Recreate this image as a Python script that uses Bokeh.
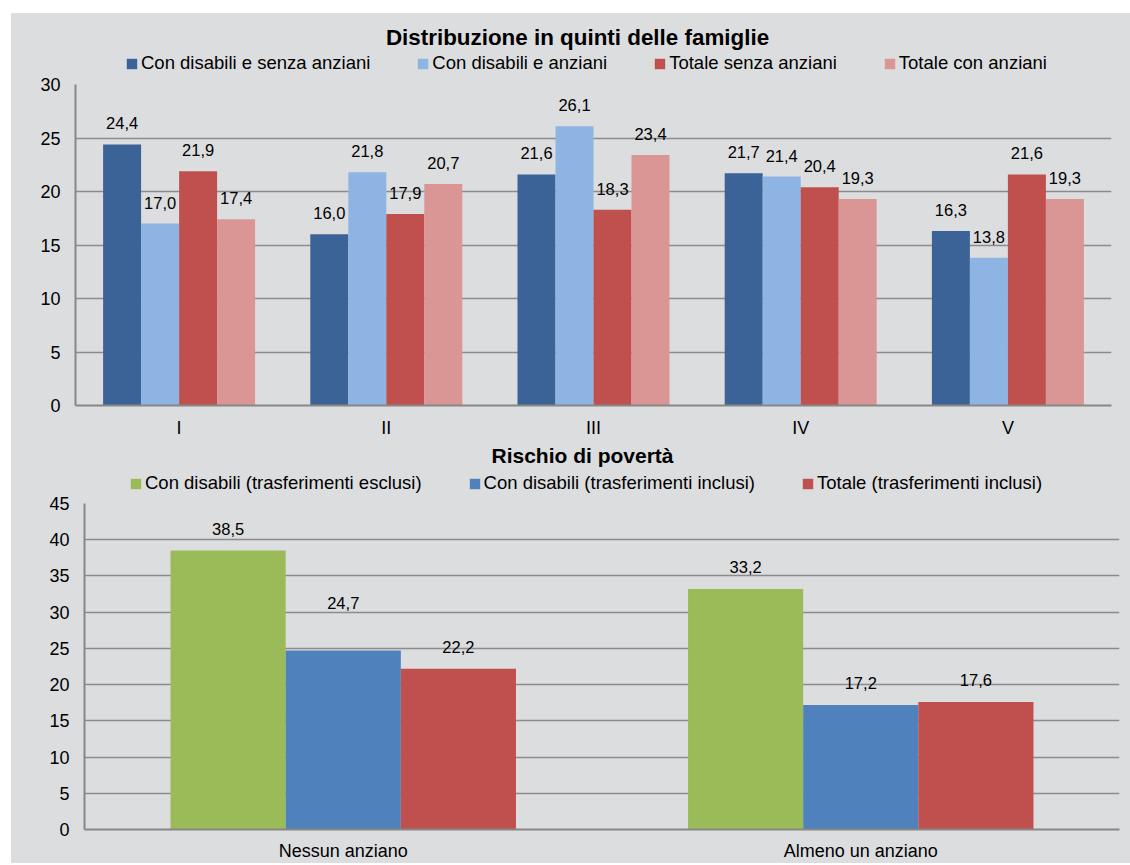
from bokeh.plotting import figure
from bokeh.models import (ColumnDataSource, FactorRange, Legend, LegendItem, Range1d,
                          FixedTicker, Label)
from bokeh.transform import dodge
from bokeh.layouts import column
from bokeh.embed import file_html
from bokeh.resources import INLINE
from bokeh.core.properties import value

# ---------------- data ----------------
quintiles = ["I", "II", "III", "IV", "V"]
top_series = ["Con disabili e senza anziani", "Con disabili e anziani",
              "Totale senza anziani", "Totale con anziani"]
dis_senza_anz = [24.4, 16.0, 21.6, 21.7, 16.3]
dis_con_anz = [17.0, 21.8, 26.1, 21.4, 13.8]
tot_senza_anz = [21.9, 17.9, 18.3, 20.4, 21.6]
tot_con_anz = [17.4, 20.7, 23.4, 19.3, 19.3]
top_ticks = [0, 5, 10, 15, 20, 25, 30]

groups = ["Nessun anziano", "Almeno un anziano"]
bot_series = ["Con disabili (trasferimenti esclusi)", "Con disabili (trasferimenti inclusi)",
              "Totale (trasferimenti inclusi)"]
dis_escl = [38.5, 33.2]
dis_incl = [24.7, 17.2]
tot_incl = [22.2, 17.6]
bot_ticks = [0, 5, 10, 15, 20, 25, 30, 35, 40, 45]

# ---------------- style ----------------
BG = "#DCDDDF"
GRID = "#8C8C8C"
AXIS = "#878787"
FONT = "Liberation Sans"
W = 1119
top_colors = ["#3B6397", "#8EB4E3", "#C0504D", "#D99694"]
bot_colors = ["#9BBB59", "#4F81BD", "#C0504D"]
bot_label_extra = [[0, 0], [-26, 0], [0, 0]]  # manual label placement in original


def fmt(v):
    return f"{v:.1f}".replace(".", ",")


def base_style(p):
    p.background_fill_color = BG
    p.border_fill_color = BG
    p.outline_line_color = None
    p.frame_align = False


def style(p, ticks, xstand):
    base_style(p)
    p.xgrid.grid_line_color = None
    p.ygrid.grid_line_color = GRID
    p.ygrid.grid_line_width = 1.3
    p.yaxis.ticker = FixedTicker(ticks=ticks)
    for ax in (p.xaxis, p.yaxis):
        ax.axis_line_color = AXIS
        ax.axis_line_width = 2
        ax.major_tick_line_color = None
        ax.minor_tick_line_color = None
        ax.major_tick_out = 0
        ax.major_tick_in = 0
        ax.major_label_text_font = FONT
        ax.major_label_text_font_size = "18px"
        ax.major_label_text_color = "black"
    p.yaxis.major_label_standoff = 15
    p.xaxis.major_label_standoff = xstand


def header(title, names, colors, height, title_xy, title_size, legend_xy):
    h = figure(width=W, height=height, x_range=Range1d(0, W), y_range=Range1d(0, height),
               x_axis_type=None, y_axis_type=None, output_backend="svg", toolbar_location=None,
               min_border=0)
    base_style(h)
    h.grid.visible = False
    h.add_layout(Label(x=title_xy[0], y=title_xy[1], text=title, text_align="center",
                       text_baseline="middle", text_font=FONT, text_font_size=title_size,
                       text_font_style="bold", text_color="black"))
    items = []
    for name, c in zip(names, colors):
        r = h.vbar(x=[0], top=[0], width=0, fill_color=c, line_color=None)
        items.append(LegendItem(label=name, renderers=[r]))
    lg = Legend(items=items, orientation="horizontal", location=legend_xy)
    lg.background_fill_alpha = 0
    lg.border_line_color = None
    lg.glyph_width = 13
    lg.glyph_height = 13
    lg.label_standoff = 3
    lg.spacing = 46
    lg.padding = 0
    lg.margin = 0
    lg.label_text_font = FONT
    lg.label_text_font_size = "18.5px"
    lg.label_text_color = "black"
    h.add_layout(lg, "center")
    return h


# ---------------- top chart ----------------
h1 = header("Distribuzione in quinti delle famiglie", top_series, top_colors,
            62, (566, 38), "22.4px", (114, 1))

src1 = ColumnDataSource(dict(cat=quintiles, s0=dis_senza_anz, s1=dis_con_anz,
                             s2=tot_senza_anz, s3=tot_con_anz,
                             l0=[fmt(v) for v in dis_senza_anz], l1=[fmt(v) for v in dis_con_anz],
                             l2=[fmt(v) for v in tot_senza_anz], l3=[fmt(v) for v in tot_con_anz]))

p1 = figure(x_range=FactorRange(*quintiles), y_range=Range1d(0, 30),
            width=W, height=367, output_backend="svg", toolbar_location=None,
            min_border_left=64, min_border_right=19, min_border_top=9, min_border_bottom=37)
style(p1, top_ticks, 12)

w1 = 0.1834
offs1 = [-1.5 * w1, -0.5 * w1, 0.5 * w1, 1.5 * w1]
for i in range(4):
    p1.vbar(x=dodge("cat", offs1[i], range=p1.x_range), top=f"s{i}", width=w1,
            source=src1, fill_color=top_colors[i], line_color=None)
    p1.text(x=dodge("cat", offs1[i], range=p1.x_range), y=f"s{i}", text=f"l{i}", source=src1,
            y_offset=-21, text_align="center", text_baseline="middle",
            text_font=value(FONT), text_font_size="16.5px", text_color="black")

# ---------------- bottom chart ----------------
h2 = header("Rischio di povertà", bot_series, bot_colors, 52, (571, 39), "21px", (118, 0))

src2 = ColumnDataSource(dict(cat=groups, s0=dis_escl, s1=dis_incl, s2=tot_incl,
                             l0=[fmt(v) for v in dis_escl], l1=[fmt(v) for v in dis_incl],
                             l2=[fmt(v) for v in tot_incl]))

p2 = figure(x_range=FactorRange(*groups), y_range=Range1d(0, 45),
            width=W, height=369, output_backend="svg", toolbar_location=None,
            min_border_left=73, min_border_right=11, min_border_top=9, min_border_bottom=34)
style(p2, bot_ticks, 11)

w2 = 0.2225
offs2 = [-w2, 0, w2]
for i in range(3):
    p2.vbar(x=dodge("cat", offs2[i], range=p2.x_range), top=f"s{i}", width=w2,
            source=src2, fill_color=bot_colors[i], line_color=None)
    src2.data[f"dy{i}"] = [-22 + e for e in bot_label_extra[i]]
    p2.text(x=dodge("cat", offs2[i], range=p2.x_range), y=f"s{i}", text=f"l{i}", source=src2,
            y_offset=f"dy{i}", text_align="center", text_baseline="middle",
            text_font=value(FONT), text_font_size="16.5px", text_color="black")

layout = column(h1, p1, h2, p2, margin=(13, 0, 0, 11), spacing=0,
                styles={"background-color": BG})

open("out.html", "w").write(file_html(layout, INLINE))
